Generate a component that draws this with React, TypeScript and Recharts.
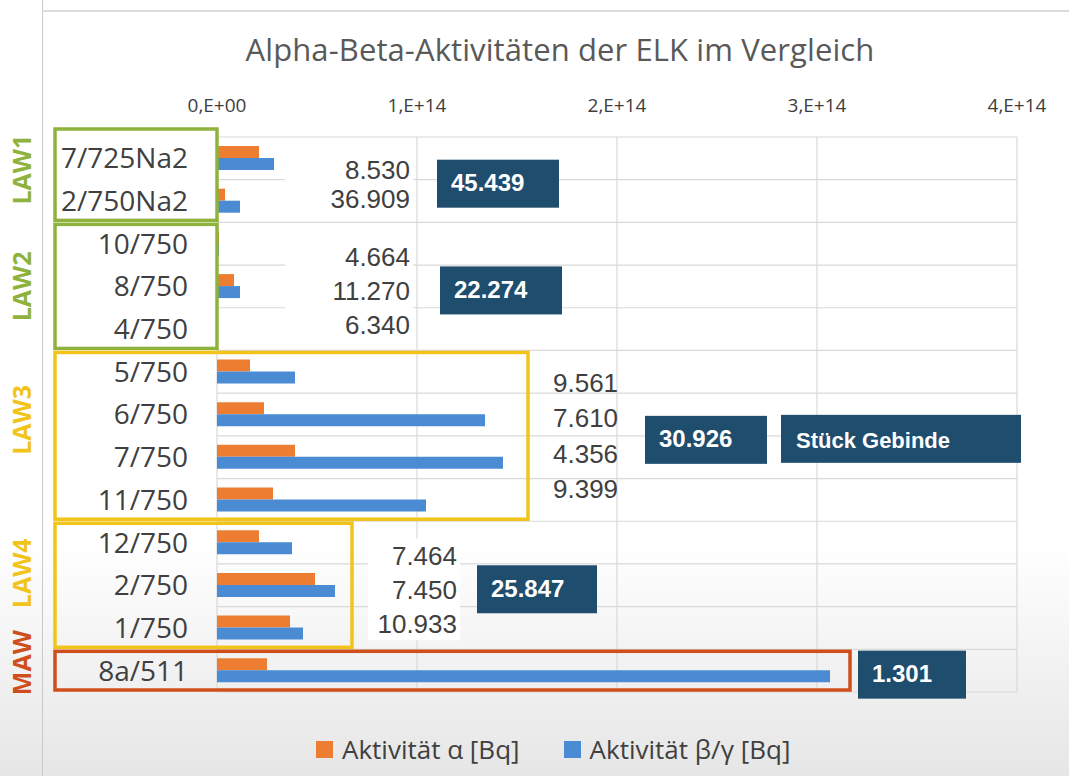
import React from 'react';
import { BarChart, Bar, XAxis, YAxis, CartesianGrid } from 'recharts';

// categories top to bottom
const categories = ['7/725Na2', '2/750Na2', '10/750', '8/750', '4/750', '5/750', '6/750', '7/750', '11/750', '12/750', '2/750', '1/750', '8a/511'];
const alphaValues = [2.1e13, 0.4e13, 0.1e13, 0.85e13, 0.05e13, 1.65e13, 2.35e13, 3.9e13, 2.8e13, 2.1e13, 4.9e13, 3.65e13, 2.5e13];
const betaValues = [2.85e13, 1.15e13, 0.1e13, 1.15e13, 0.05e13, 3.9e13, 13.4e13, 14.3e13, 10.45e13, 3.75e13, 5.9e13, 4.3e13, 30.65e13];
const xTicks = [0, 1e14, 2e14, 3e14, 4e14];
const seriesNames = ['Aktivität α [Bq]', 'Aktivität β/γ [Bq]'];

// groups of containers
const groupNames = ['LAW1', 'LAW2', 'LAW3', 'LAW4', 'MAW'];
const groupFirstRow = [0, 2, 5, 9, 12];
const groupLastRow = [1, 4, 8, 11, 12];
const groupCounts = [['8.530', '36.909'], ['4.664', '11.270', '6.340'], ['9.561', '7.610', '4.356', '9.399'], ['7.464', '7.450', '10.933'], []];
const groupTotals = ['45.439', '22.274', '30.926', '25.847', '1.301'];

const COLORS = { alpha: '#ed7d31', beta: '#4a8bd4', box: '#1f4d6e', text: '#404040', grid: '#d9d9d9' };
const groupColors = ['#8fb23c', '#8fb23c', '#f2c318', '#f2c318', '#cf4f1c'];

// chart geometry
const W = 1069;
const H = 776;
const PLOT_LEFT = 217;
const PLOT_RIGHT = 1017;
const PLOT_TOP = 137;
const PLOT_BOTTOM = 692;
const X_MAX = 4e14;
const band = (PLOT_BOTTOM - PLOT_TOP) / categories.length;
const xPos = (v: number) => PLOT_LEFT + (v / X_MAX) * (PLOT_RIGHT - PLOT_LEFT);
const rowTop = (i: number) => PLOT_TOP + i * band;

// annotation layout, in axis units
const groupBoxRight = [0, 0, 1.555e14, 0.675e14, 3.165e14];
const groupLabelShift = [-5, 0, -16, -12, -8];
const countAnchorX = [0.965e14, 0.965e14, 1.68e14, 1.2e14, 0];
const countAnchor: ('start' | 'end')[] = ['end', 'end', 'start', 'end', 'end'];
const countBgWidth = [128, 128, 0, 92, 0];
const countShift = [4, 4, 0, 4, 0];
const countSpacing = [29, 34, 35.5, 34, 34];
const totalBoxX = [1.1e14, 1.115e14, 2.14e14, 1.3e14, 3.205e14];
const totalBoxW = [122, 122, 122, 120, 108];

const data = categories.map((c, i) => ({ id: String(i), name: c, alpha: alphaValues[i], beta: betaValues[i] }));

const fmtTick = (v: number) => (v === 0 ? '0,E+00' : `${Math.round(v / 1e14)},E+14`);

function Annotations() {
  return (
    <svg width={W} height={H} style={{ position: 'absolute', left: 0, top: 0, pointerEvents: 'none' }}>
      {groupNames.map((g, gi) => {
        const first = groupFirstRow[gi];
        const last = groupLastRow[gi];
        const top = rowTop(first) + (gi === 0 ? -8 : 2);
        const bottom = rowTop(last + 1) - 2;
        const mid = (top + bottom) / 2 + groupLabelShift[gi];
        const counts = groupCounts[gi];
        const spacing = countSpacing[gi];
        const blockMid = (rowTop(first) + rowTop(last + 1)) / 2;
        const cMid = blockMid + countShift[gi];
        const cx = xPos(countAnchorX[gi]);
        const bx = xPos(totalBoxX[gi]);
        const bgW = countBgWidth[gi];
        return (
          <g key={g}>
            <rect x={55} y={top} width={xPos(groupBoxRight[gi]) - 55} height={bottom - top}
              fill="none" stroke={groupColors[gi]} strokeWidth={3.5} />
            <text transform={`translate(31, ${mid}) rotate(-90)`} textAnchor="middle"
              fontFamily="Open Sans" fontWeight={700} fontSize={25} fill={groupColors[gi]}>{g}</text>
            {bgW > 0 && counts.length > 0 && (
              <rect x={cx - bgW + 3} y={cMid - spacing * counts.length / 2}
                width={bgW} height={spacing * counts.length} fill="#ffffff" />
            )}
            {counts.map((c, k) => (
              <text key={k} x={cx} y={cMid + (k - (counts.length - 1) / 2) * spacing} dy="0.36em"
                textAnchor={countAnchor[gi]} fontFamily="Liberation Sans" fontSize={26} fill={COLORS.text}>{c}</text>
            ))}
            <rect x={bx} y={blockMid + 4 - 24} width={totalBoxW[gi]} height={48} fill={COLORS.box} />
            <text x={bx + 14} y={blockMid + 3} dy="0.36em" fontFamily="Liberation Sans" fontWeight={700}
              fontSize={24} fill="#ffffff">{groupTotals[gi]}</text>
            {gi === 2 && (
              <g>
                <rect x={781} y={blockMid - 21} width={240} height={48} fill={COLORS.box} />
                <text x={796} y={blockMid + 4} dy="0.36em" fontFamily="Liberation Sans" fontWeight={700}
                  fontSize={22} fill="#ffffff">Stück Gebinde</text>
              </g>
            )}
          </g>
        );
      })}
    </svg>
  );
}

export default function App() {
  return (
    <div style={{
      position: 'absolute', left: 0, top: 0, width: W, height: H, overflow: 'hidden',
      background: 'linear-gradient(to bottom, #ffffff 0%, #ffffff 70%, #e6e6e6 100%)',
    }}>
      <div style={{ position: 'absolute', left: 42, top: 0, width: 1, height: H, background: '#c9c9c9' }} />
      <div style={{ position: 'absolute', left: 42, top: 10, width: W - 42, height: 2, background: '#dcdcdc' }} />
      <div style={{
        position: 'absolute', left: 42, top: 28, width: 1036, textAlign: 'center',
        fontFamily: 'Open Sans', fontSize: 31, color: '#595959', letterSpacing: 0.1,
      }}>Alpha-Beta-Aktivitäten der ELK im Vergleich</div>
      <div style={{ position: 'absolute', left: 0, top: 0 }}>
        <BarChart width={W} height={H} data={data} layout="vertical" barGap={0} barSize={12}
          margin={{ top: 107, right: 52, bottom: 84, left: 57 }}>
          <CartesianGrid stroke={COLORS.grid} strokeWidth={1.2}
            horizontalCoordinatesGenerator={() => categories.map((_, i) => rowTop(i)).concat([PLOT_BOTTOM])} />
          <XAxis type="number" orientation="top" domain={[0, X_MAX]} ticks={xTicks} height={30}
            tickFormatter={fmtTick} axisLine={false} tickLine={false} tickSize={0} tickMargin={25}
            tick={{ fontFamily: 'Open Sans', fontSize: 19, fill: COLORS.text }} />
          <YAxis type="category" dataKey="id" width={160} axisLine={false} tickLine={false}
            tickSize={0} tickMargin={29} tickFormatter={(v: string) => categories[Number(v)]}
            tick={{ fontFamily: 'Open Sans', fontSize: 28, fill: COLORS.text }} />
          <Bar dataKey="alpha" name={seriesNames[0]} fill={COLORS.alpha} isAnimationActive={false} />
          <Bar dataKey="beta" name={seriesNames[1]} fill={COLORS.beta} isAnimationActive={false} />
        </BarChart>
      </div>
      <Annotations />
      <div style={{
        position: 'absolute', left: 316, top: 731, display: 'flex',
        gap: 44, fontFamily: 'Open Sans', fontSize: 26, color: COLORS.text, whiteSpace: 'nowrap',
      }}>
        {seriesNames.map((s, i) => (
          <div key={s} style={{ display: 'flex', alignItems: 'center', gap: 9 }}>
            <span style={{ width: 17, height: 17, background: i === 0 ? COLORS.alpha : COLORS.beta, display: 'inline-block' }} />
            <span>{s}</span>
          </div>
        ))}
      </div>
    </div>
  );
}
